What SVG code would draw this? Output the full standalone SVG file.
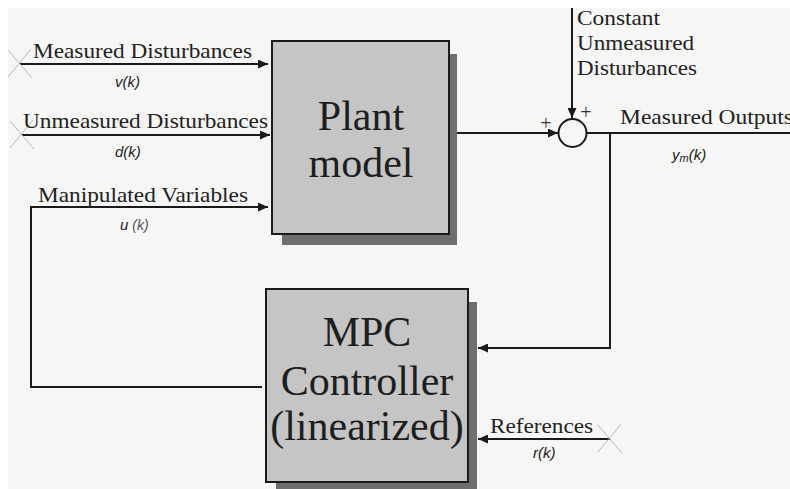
<svg xmlns="http://www.w3.org/2000/svg" width="790" height="489" viewBox="0 0 790 489">
<defs>
<style>
.lbl{font-family:"Liberation Serif","Times New Roman",serif;font-size:21px;fill:#222}
.big{font-family:"Liberation Serif","Times New Roman",serif;font-size:42px;fill:#1e1e1e;text-anchor:middle}
.sig{font-family:"Liberation Sans",Arial,sans-serif;font-size:15px;font-style:italic;fill:#222}
.pm{font-family:"Liberation Serif","Times New Roman",serif;font-size:20px;fill:#333;text-anchor:middle}
.wire{fill:none;stroke:#1a1a1a;stroke-width:2}
.arr{marker-end:url(#ah)}
.xm{stroke:#b0b0b0;stroke-width:0.9;fill:none}
.box{fill:#c5c5c5;stroke:#1a1a1a;stroke-width:2}
.shadow{fill:#6e6e6e}
</style>
<marker id="ah" markerUnits="userSpaceOnUse" markerWidth="11" markerHeight="9" refX="10" refY="4.5" orient="auto">
<path d="M0,0 L10,4.5 L0,9 z" fill="#1a1a1a"/>
</marker>
</defs>
<rect x="0" y="0" width="790" height="489" fill="#ffffff"/>
<rect x="8" y="8" width="782" height="481" fill="#f6f6f5"/>

<g id="connectors">
<path class="wire arr" d="M20,64 H268"/>
<path class="wire arr" d="M22,135 H270"/>
<path class="wire arr" d="M262,387 H31 V207 H268"/>
<path class="wire arr" d="M449,133 H558"/>
<path class="wire arr" d="M572,8 V118"/>
<path class="wire" d="M587,133 H790"/>
<path class="wire arr" d="M610,133 V348 H478"/>
<path class="wire arr" d="M610,439 H478"/>
</g>

<g id="markers">
<path class="xm" d="M8,50 L32,78 M31,49 L8,77"/>
<path class="xm" d="M10,121 L34,149 M33,120 L10,148"/>
<path class="xm" d="M598,425 L622,453 M621,424 L598,452"/>
</g>

<g id="plant">
<rect class="shadow" x="282" y="54" width="175" height="191"/>
<rect class="box" x="272" y="41" width="177" height="193"/>
<text class="big" x="361" y="130">Plant</text>
<text class="big" x="361" y="177">model</text>
</g>

<g id="mpc">
<rect class="shadow" x="276" y="302" width="201" height="187"/>
<rect class="box" x="266" y="289" width="202" height="193"/>
<text class="big" x="367" y="346">MPC</text>
<text class="big" x="367" y="395">Controller</text>
<text class="big" x="367" y="440">(linearized)</text>
</g>

<g id="sum">
<circle cx="572.5" cy="133" r="14" fill="none" stroke="#1a1a1a" stroke-width="2"/>
<text class="pm" x="546" y="130">+</text>
<text class="pm" x="586" y="119">+</text>
</g>

<g id="labels">
<text class="lbl" x="33" y="58" textLength="219" lengthAdjust="spacingAndGlyphs">Measured Disturbances</text>
<text class="sig" x="115" y="87">v(k)</text>
<text class="lbl" x="23" y="128" textLength="245" lengthAdjust="spacingAndGlyphs">Unmeasured Disturbances</text>
<text class="sig" x="115" y="157">d(k)</text>
<text class="lbl" x="38" y="202" textLength="210" lengthAdjust="spacingAndGlyphs">Manipulated Variables</text>
<text class="sig" x="120" y="230">u<tspan fill="#555" font-size="14"> (k)</tspan></text>
<text class="lbl" x="577" y="25" textLength="83" lengthAdjust="spacingAndGlyphs">Constant</text>
<text class="lbl" x="577" y="50" textLength="117" lengthAdjust="spacingAndGlyphs">Unmeasured</text>
<text class="lbl" x="577" y="75" textLength="120" lengthAdjust="spacingAndGlyphs">Disturbances</text>
<text class="lbl" x="620" y="124" textLength="173" lengthAdjust="spacingAndGlyphs">Measured Outputs</text>
<text class="sig" x="672" y="160">y<tspan font-size="11" dy="2">m</tspan><tspan dy="-2">(k)</tspan></text>
<text class="lbl" x="490" y="433" textLength="103" lengthAdjust="spacingAndGlyphs">References</text>
<text class="sig" x="533" y="458">r(k)</text>
</g>
</svg>
